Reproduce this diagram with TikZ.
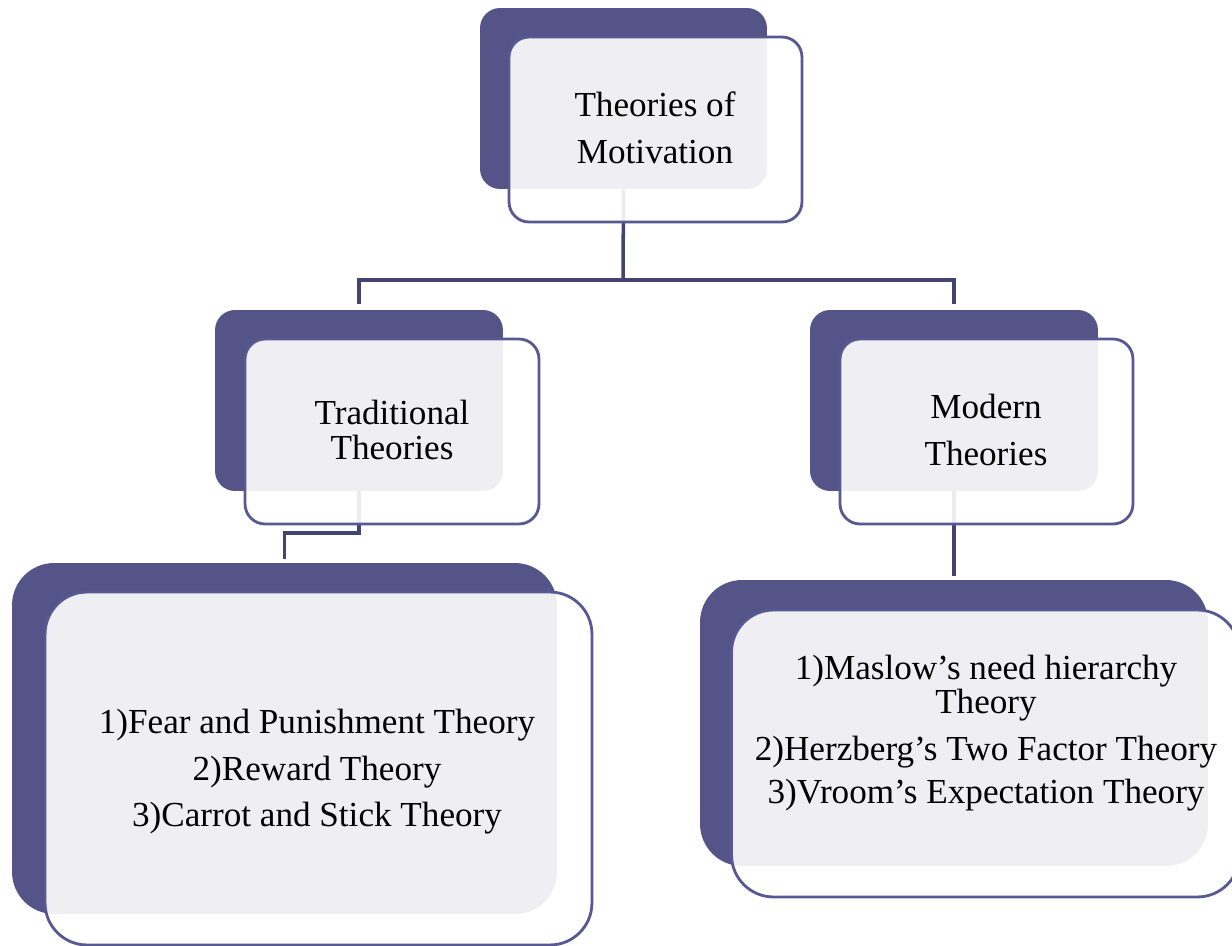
\documentclass[tikz,border=0pt]{standalone}
\usepackage{fontspec}
\setmainfont{Liberation Serif}
\usepackage{tikz}
\usetikzlibrary{positioning, backgrounds}
\definecolor{backcolor}{RGB}{84, 84, 137}
\definecolor{edgecolor}{RGB}{88, 88, 146}
\definecolor{linkcolor}{RGB}{68, 68, 112}

\begin{document}
\begin{tikzpicture}[x=0.02cm, y=-0.02cm,
    backbox/.style={fill=backcolor, inner sep=0pt, rounded corners=0.4cm},
    frontbox/.style={draw=edgecolor, line width=1.6pt, fill=white, fill opacity=0.9, inner sep=0pt, rounded corners=0.4cm},
    boxtext/.style={align=center, font=\fontsize{20}{26.5}\selectfont},
    link/.style={draw=linkcolor, line width=2pt}]
    \useasboundingbox (0, 0) rectangle (1232, 946);

    % Root
    \node[backbox, minimum width=5.74cm, minimum height=3.62cm] (rootback) at (623.5, 98.5) {};
    \node[frontbox, minimum width=5.86cm, minimum height=3.70cm] (rootfront) at (655.5, 129.5) {};
    \node[boxtext] (roottext) at (655, 128) {Theories of\\Motivation};

    % Traditional
    \node[backbox, minimum width=5.76cm, minimum height=3.62cm] (tradback) at (359, 400.5) {};
    \node[frontbox, minimum width=5.88cm, minimum height=3.70cm] (tradfront) at (392, 431.5) {};
    \node[boxtext] (tradtext) at (392, 430) {Traditional\\[-7pt]Theories};

    % Modern
    \node[backbox, minimum width=5.76cm, minimum height=3.62cm] (modback) at (954, 400.5) {};
    \node[frontbox, minimum width=5.86cm, minimum height=3.70cm] (modfront) at (986.5, 431.5) {};
    \node[boxtext] (modtext) at (986, 430) {Modern\\Theories};

    % Traditional list
    \node[backbox, rounded corners=0.84cm, minimum width=10.90cm, minimum height=7.02cm] (tradlistback) at (284.5, 738.5) {};
    \node[frontbox, rounded corners=0.84cm, minimum width=10.94cm, minimum height=7.06cm] (tradlistfront) at (318.5, 768.5) {};
    \node[boxtext] (tradlisttext) at (317, 772) {1)Fear and Punishment Theory\\2)Reward Theory\\3)Carrot and Stick Theory};

    % Modern list
    \node[backbox, rounded corners=0.84cm, minimum width=10.16cm, minimum height=5.72cm] (modlistback) at (954, 723) {};
    \node[frontbox, rounded corners=0.84cm, minimum width=10.16cm, minimum height=5.74cm] (modlistfront) at (985.5, 753.5) {};
    \node[boxtext] (modlisttext) at (986, 733) {1)Maslow’s need hierarchy\\[-7pt]Theory\\2)Herzberg’s Two Factor Theory\\[-2pt]3)Vroom’s Expectation Theory};

    % Connectors
    \coordinate (hub) at (623, 280);
    \coordinate (tradbend) at (359, 533);
    \begin{scope}[on background layer]
        \draw[link] (rootback.south) -- (hub);
        \draw[link, shorten >=3pt] (hub) -| (tradback.north);
        \draw[link, shorten >=3pt] (hub) -| (modback.north);
        \draw[link, shorten >=2pt] (tradback.south) -- (tradbend) -| (tradlistback.north);
        \draw[link, shorten >=2pt] (modback.south) -- (modlistback.north);
    \end{scope}
\end{tikzpicture}
\end{document}
